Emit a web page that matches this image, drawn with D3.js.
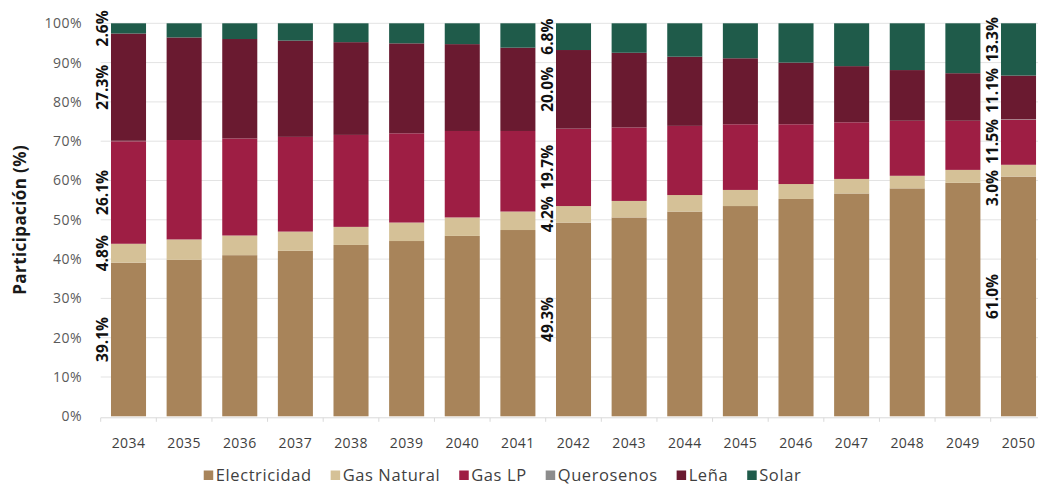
<!DOCTYPE html>
<html>
<head>
<meta charset="utf-8">
<script src="https://cdn.jsdelivr.net/npm/d3@7"></script>
<style>
  html, body { margin: 0; padding: 0; background: #ffffff; }
  svg { display: block; font-family: "Open Sans", "Noto Sans", sans-serif; }
</style>
</head>
<body>
<svg id="chart" width="1038" height="484"></svg>
<script>
// Participación por energético (%), 2034–2050
const years = ["2034","2035","2036","2037","2038","2039","2040","2041","2042",
               "2043","2044","2045","2046","2047","2048","2049","2050"];

const electricidad = [39.1, 39.8, 41.0, 42.1, 43.6, 44.6, 45.9, 47.4, 49.3, 50.6, 52.1, 53.5, 55.3, 56.7, 58.0, 59.4, 61.0];
const gasNatural   = [ 4.8,  5.2,  5.0,  4.9,  4.6,  4.7,  4.7,  4.7,  4.2,  4.2,  4.2,  4.1,  3.8,  3.7,  3.2,  3.3,  3.0];
const gasLP        = [26.1, 25.3, 24.7, 24.1, 23.4, 22.7, 22.0, 20.5, 19.7, 18.7, 17.6, 16.7, 15.2, 14.4, 14.0, 12.5, 11.5];
const querosenos   = [ 0.1,  0.0,  0.0,  0.0,  0.0,  0.0,  0.0,  0.0,  0.0,  0.0,  0.0,  0.0,  0.0,  0.0,  0.0,  0.0,  0.1];
const lena         = [27.3, 26.1, 25.3, 24.5, 23.6, 22.9, 22.1, 21.2, 20.0, 19.0, 17.6, 16.8, 15.7, 14.3, 12.9, 12.1, 11.1];
const solar        = [ 2.6,  3.6,  4.0,  4.4,  4.8,  5.1,  5.3,  6.2,  6.8,  7.5,  8.5,  8.9, 10.0, 10.9, 11.9, 12.7, 13.3];

const seriesNames  = ["Electricidad", "Gas Natural", "Gas LP", "Querosenos", "Leña", "Solar"];
const seriesColors = ["#a8845a", "#d5c197", "#9e1e44", "#8c8c8c", "#6a1a30", "#1f5b4a"];
const yTicks = [0, 10, 20, 30, 40, 50, 60, 70, 80, 90, 100];
const labeledYears = ["2034", "2042", "2050"];

const seriesValues = [electricidad, gasNatural, gasLP, querosenos, lena, solar];
const rows = years.map((y, i) => {
  const r = { year: y };
  seriesNames.forEach((n, k) => { r[n] = seriesValues[k][i]; });
  return r;
});

const svg = d3.select("#chart");
const W = 1038, H = 484;
const plotTop = 23.3, plotBottom = 416.3, plotLeft = 100.7;

const x = d3.scaleBand()
  .domain(years)
  .range([plotLeft, plotLeft + 17 * 55.625])
  .paddingInner(0.37)
  .paddingOuter(0.185);

const y = d3.scaleLinear().domain([0, 100]).range([plotBottom, plotTop]);

const stack = d3.stack().keys(seriesNames);
const stacked = stack(rows);
const color = d3.scaleOrdinal().domain(seriesNames).range(seriesColors);

// Horizontal gridlines
svg.append("g")
  .selectAll("line")
  .data(yTicks.filter(t => t > 0))
  .join("line")
  .attr("x1", plotLeft)
  .attr("x2", W)
  .attr("y1", d => y(d))
  .attr("y2", d => y(d))
  .attr("stroke", "#e3e3e3")
  .attr("stroke-width", 1);

// Y axis labels
const yAxis = d3.axisLeft(y).tickValues(yTicks).tickFormat(d => d + "%").tickSize(0).tickPadding(0);
const yg = svg.append("g").attr("transform", `translate(82,0)`).call(yAxis);
yg.select(".domain").remove();
yg.selectAll("text")
  .attr("fill", "#5a5a5a")
  .style("font-size", "14px")
  .style("letter-spacing", "0.5px")
  .style("font-family", "'Open Sans', sans-serif");

// Y axis title
svg.append("text")
  .attr("transform", `translate(26,${(plotTop + plotBottom) / 2}) rotate(-90)`)
  .attr("text-anchor", "middle")
  .attr("fill", "#1a1a1a")
  .style("font-size", "17px")
  .style("font-weight", "700")
  .style("letter-spacing", "0.4px")
  .text("Participación (%)");

// Stacked bars
svg.append("g")
  .selectAll("g")
  .data(stacked)
  .join("g")
  .attr("fill", d => color(d.key))
  .selectAll("rect")
  .data(d => d)
  .join("rect")
  .attr("x", d => x(d.data.year))
  .attr("width", x.bandwidth())
  .attr("y", d => y(d[1]))
  .attr("height", d => Math.max(0, y(d[0]) - y(d[1])));

// X axis: baseline, ticks between categories, year labels
const xg = svg.append("g");
xg.append("line")
  .attr("x1", plotLeft).attr("x2", W)
  .attr("y1", plotBottom + 1.5).attr("y2", plotBottom + 1.5)
  .attr("stroke", "#d9d9d9");
const step = x.step();
const boundaries = years.map(yr => x(yr) - x.paddingOuter() * step);
xg.selectAll("line.tick")
  .data(boundaries)
  .join("line")
  .attr("class", "tick")
  .attr("x1", d => d).attr("x2", d => d)
  .attr("y1", plotBottom + 1.5).attr("y2", plotBottom + 5.5)
  .attr("stroke", "#d9d9d9");
xg.selectAll("text")
  .data(years)
  .join("text")
  .attr("x", d => x(d) + x.bandwidth() / 2)
  .attr("y", 447.5)
  .attr("text-anchor", "middle")
  .attr("fill", "#3f3f3f")
  .style("font-size", "14px")
  .style("letter-spacing", "0.4px")
  .text(d => d);

// Value labels, rotated, left of selected bars; overlapping labels are packed into clusters
const fmt = v => v.toFixed(1) + "%";
const labelLayer = svg.append("g");
const gap = 6;
labeledYears.forEach(yr => {
  const i = years.indexOf(yr);
  const items = [];
  stacked.forEach(s => {
    const v = s[i].data[s.key];
    if (v < 1) return;
    const t = labelLayer.append("text")
      .attr("text-anchor", "middle")
      .attr("fill", "#111")
      .style("font-size", "15.5px")
      .style("font-weight", "700")
      .text(fmt(v));
    items.push({ node: t, want: y((s[i][0] + s[i][1]) / 2), half: t.node().getComputedTextLength() / 2 });
  });
  // items ordered bottom (large y) to top (small y)
  let clusters = items.map(it => ({ members: [it] }));
  const place = c => {
    let off = 0;
    c.members.forEach((m, k) => {
      if (k > 0) off -= c.members[k - 1].half + m.half + gap;
      m.off = off;
    });
    const base = d3.mean(c.members, m => m.want - m.off);
    c.members.forEach(m => { m.pos = base + m.off; });
  };
  clusters.forEach(place);
  let merged = true;
  while (merged) {
    merged = false;
    for (let k = 0; k + 1 < clusters.length; k++) {
      const a = clusters[k], b = clusters[k + 1];
      const aTop = a.members[a.members.length - 1];
      const bBot = b.members[0];
      if (aTop.pos - aTop.half - gap < bBot.pos + bBot.half) {
        const c = { members: a.members.concat(b.members) };
        place(c);
        clusters.splice(k, 2, c);
        merged = true;
        break;
      }
    }
  }
  const xLab = x(yr) - 3;
  items.forEach(m => {
    m.node.attr("transform", `translate(${xLab},${m.pos}) rotate(-90)`);
  });
});

// Legend
const legend = svg.append("g");
let lx = 0;
const legendGap = 19;
seriesNames.forEach((n, k) => {
  const g = legend.append("g");
  g.append("rect")
    .attr("x", 0).attr("y", -10)
    .attr("width", 9.5).attr("height", 9.5)
    .attr("fill", seriesColors[k]);
  const t = g.append("text")
    .attr("x", 12).attr("y", 0)
    .attr("fill", "#3f3f3f")
    .style("font-size", "16.5px")
    .style("letter-spacing", "0.6px")
    .text(n);
  const w = 12 + t.node().getComputedTextLength();
  g.attr("transform", `translate(${lx},0)`);
  lx += w + legendGap;
});
const legendWidth = lx - legendGap;
legend.attr("transform", `translate(${502.5 - legendWidth / 2},480.5)`);
</script>
</body>
</html>
